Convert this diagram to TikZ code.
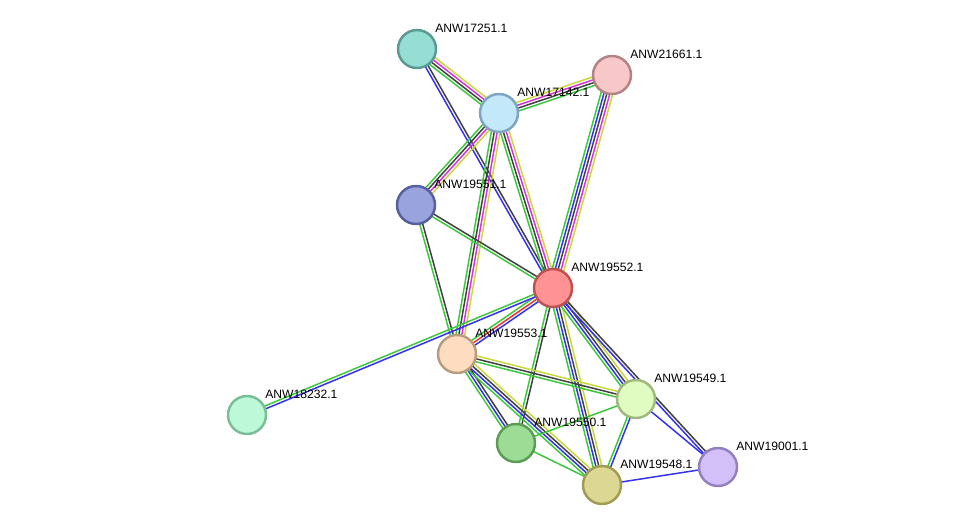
\documentclass[tikz,border=0pt]{standalone}
\usepackage{fontspec}
\setmainfont{Liberation Sans}
\usetikzlibrary{calc,backgrounds}

% evidence colours
\definecolor{sgreen}{HTML}{3CC83C}
\definecolor{sred}{HTML}{F03232}
\definecolor{sblue}{HTML}{3232F0}
\definecolor{sblack}{HTML}{404040}
\definecolor{smag}{HTML}{D832D8}
\definecolor{syel}{HTML}{C8D83C}
% protein colours (fill / border)
\definecolor{f17251}{HTML}{96DDD3}\definecolor{b17251}{HTML}{5A9A92}
\definecolor{f21661}{HTML}{F8C8C8}\definecolor{b21661}{HTML}{B48484}
\definecolor{f17142}{HTML}{C3E8FA}\definecolor{b17142}{HTML}{7EA6C2}
\definecolor{f19551}{HTML}{99A3DE}\definecolor{b19551}{HTML}{56609E}
\definecolor{f19552}{HTML}{FF9292}\definecolor{b19552}{HTML}{BE5252}
\definecolor{f19553}{HTML}{FDDCC0}\definecolor{b19553}{HTML}{B89C80}
\definecolor{f18232}{HTML}{BDF8D8}\definecolor{b18232}{HTML}{7ABE98}
\definecolor{f19549}{HTML}{E0FCC0}\definecolor{b19549}{HTML}{A0B880}
\definecolor{f19550}{HTML}{9CDC94}\definecolor{b19550}{HTML}{5C9C54}
\definecolor{f19548}{HTML}{DCD894}\definecolor{b19548}{HTML}{A09C54}
\definecolor{f19001}{HTML}{D4C0F8}\definecolor{b19001}{HTML}{9480C0}

\tikzset{
  prot/.style={circle, minimum size=0.76cm, inner sep=0pt, line width=1.4pt},
  lbl/.style={anchor=base west, inner sep=0pt, font=\fontsize{6.9}{8}\selectfont},
  edge/.style={line width=0.85pt}
}

% parallel lines between two proteins, one per evidence colour
\newcommand{\link}[3]{%
  \foreach \c [count=\k] in {#3} {\global\let\nlinks\k}%
  \foreach \c [count=\k] in {#3} {%
    \pgfmathsetmacro\off{(\k-(\nlinks+1)/2)*0.058}%
    \draw[edge, draw=\c] ($(#1.center)!\off cm!90:(#2.center)$) -- ($(#2.center)!\off cm!-90:(#1.center)$);
  }%
}

\begin{document}
\begin{tikzpicture}[x=0.02cm, y=-0.02cm]
			\useasboundingbox (0,0) rectangle (976,531);
			\foreach \id/\x/\y in {17251/417/49, 21661/612/75, 17142/499/113, 19551/416/205,
				19552/553/288, 19553/457/354, 18232/247/415, 19549/636/399,
				19550/516/443, 19548/602/485, 19001/718/467} {
				\node[prot, fill=f\id, draw=b\id] (n\id) at (\x,\y) {};
				\node[lbl] (l\id) at (\x+18,\y-17) {ANW\id.1};
			}
			\begin{scope}[on background layer]
				\link{n17251}{n17142}{sgreen,sblack,smag,syel}
				\link{n17251}{n19552}{sblue,sblack}
				\link{n17142}{n21661}{sgreen,sblack,smag,syel}
				\link{n21661}{n19552}{sgreen,sblue,sblack,smag,syel}
				\link{n17142}{n19551}{sgreen,sblack,smag,syel}
				\link{n17142}{n19553}{sgreen,sblack,smag,syel}
				\link{n17142}{n19552}{sgreen,sblack,smag,syel}
				\link{n19551}{n19552}{sgreen,sblack}
				\link{n19551}{n19553}{sgreen,sblack}
				\link{n19552}{n19553}{sgreen,sred,sblue}
				\link{n19552}{n18232}{sgreen,sblue}
				\link{n19552}{n19550}{sgreen,sblack}
				\link{n19552}{n19548}{sgreen,sblue,sblack,syel}
				\link{n19552}{n19549}{sgreen,sblue,sblack,syel}
				\link{n19552}{n19001}{sblue,sblack}
				\link{n19553}{n19549}{sgreen,sblack,syel}
				\link{n19553}{n19550}{sgreen,sblue,sblack}
				\link{n19553}{n19548}{sgreen,sblue,sblack,syel}
				\link{n19550}{n19549}{sgreen}
				\link{n19550}{n19548}{sgreen}
				\link{n19549}{n19548}{sgreen,sblue}
				\link{n19549}{n19001}{sblue}
				\link{n19548}{n19001}{sblue}
			\end{scope}
		\end{tikzpicture}
\end{document}
